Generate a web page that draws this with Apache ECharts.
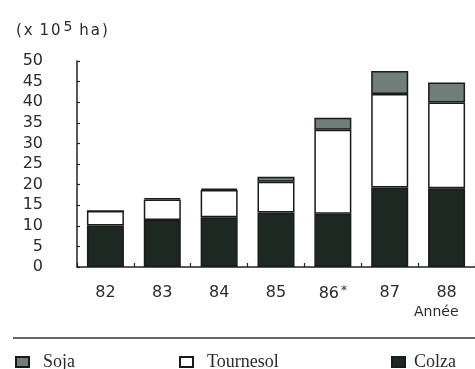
<!DOCTYPE html>
<html>
<head>
<meta charset="utf-8">
<script src="https://cdn.jsdelivr.net/npm/echarts@6/dist/echarts.min.js"></script>
<style>
html,body{margin:0;padding:0;background:#fff;}
#chart{width:475px;height:369px;}
</style>
</head>
<body>
<div id="chart"></div>
<script>
const years = ['82', '83', '84', '85', '86*', '87', '88'];
const colza = [10.1, 11.4, 12.1, 13.2, 12.9, 19.3, 19.1];
const tournesol = [3.5, 5.0, 6.6, 7.5, 20.4, 22.7, 20.8];
const soja = [0, 0.3, 0.3, 1.2, 2.9, 5.6, 4.9];
const yTicks = [0, 5, 10, 15, 20, 25, 30, 35, 40, 45, 50];

const ink = '#2b2b2b';
const sans = '"DejaVu Sans", sans-serif';
const serif = '"Liberation Serif", serif';

const chart = echarts.init(document.getElementById('chart'), null, {renderer: 'canvas'});
const border = {borderColor: '#1a1a1a', borderWidth: 1.5};
const ch = {fontFamily: sans, fontSize: 15, color: ink, padding: [0, 1, 0, 1]};

chart.setOption({
  animation: false,
  backgroundColor: '#fff',
  title: [{
    text: '{c|(}{c|x} {c|1}{c|0}{sup|5} {c|h}{c|a}{c|)}',
    left: 10, top: 15, padding: 5,
    textStyle: {
      fontFamily: sans, fontSize: 15, fontWeight: 'normal', color: ink,
      rich: {
        c: ch,
        sup: {fontFamily: sans, fontSize: 14, color: ink, verticalAlign: 'bottom', padding: [0, 1, 8, 2]}
      }
    }
  }, {
    text: 'Année',
    left: 409, top: 300, padding: 5,
    textStyle: {fontFamily: sans, fontSize: 14, fontWeight: 'normal', color: ink}
  }],
  grid: {left: 77, right: -7, top: 61, bottom: 102, containLabel: false},
  xAxis: {
    type: 'category',
    data: years,
    axisLine: {lineStyle: {color: '#222', width: 1.5}},
    axisTick: {show: true, length: 4, inside: true, lineStyle: {color: '#222', width: 1.2}},
    axisLabel: {
      interval: 0,
      margin: 18, fontFamily: sans, fontSize: 16, color: ink,
      formatter: v => v.endsWith('*') ? v.slice(0, -1) + '{sup|*}' : v,
      rich: {sup: {fontFamily: sans, fontSize: 12, color: ink, verticalAlign: 'top', padding: [0, 0, 6, 2]}}
    }
  },
  yAxis: {
    type: 'value',
    min: yTicks[0], max: yTicks[yTicks.length - 1], interval: yTicks[1] - yTicks[0],
    axisLine: {show: true, lineStyle: {color: '#222', width: 1.5}},
    axisTick: {show: true, inside: true, length: 3, lineStyle: {color: '#222', width: 1.2}},
    splitLine: {show: false},
    axisLabel: {margin: 34, fontFamily: sans, fontSize: 16, color: ink}
  },
  legend: [
    {data: ['Soja'], left: 10, top: 348, gap: 9},
    {data: ['Tournesol'], left: 174, top: 348, gap: 9},
    {data: ['Colza'], left: 386, top: 348, gap: 4}
  ].map(l => Object.assign(l, {
    icon: 'rect', itemWidth: 13, itemHeight: 10, itemGap: 8, padding: 5,
    textStyle: {fontFamily: serif, fontSize: 18, color: ink, padding: [0, 0, 0, l.gap]}
  })),
  graphic: [{
    type: 'line',
    shape: {x1: 13, y1: 338, x2: 475, y2: 338},
    style: {stroke: '#333', lineWidth: 1.5}
  }],
  series: [
    {name: 'Colza', type: 'bar', stack: 'a', barWidth: 37, data: colza,
     itemStyle: Object.assign({color: '#1d2823'}, border)},
    {name: 'Tournesol', type: 'bar', stack: 'a', barWidth: 37, data: tournesol,
     itemStyle: Object.assign({color: '#ffffff'}, border)},
    {name: 'Soja', type: 'bar', stack: 'a', barWidth: 37, data: soja,
     itemStyle: Object.assign({color: '#6f7f78'}, border)}
  ]
});
</script>
</body>
</html>
